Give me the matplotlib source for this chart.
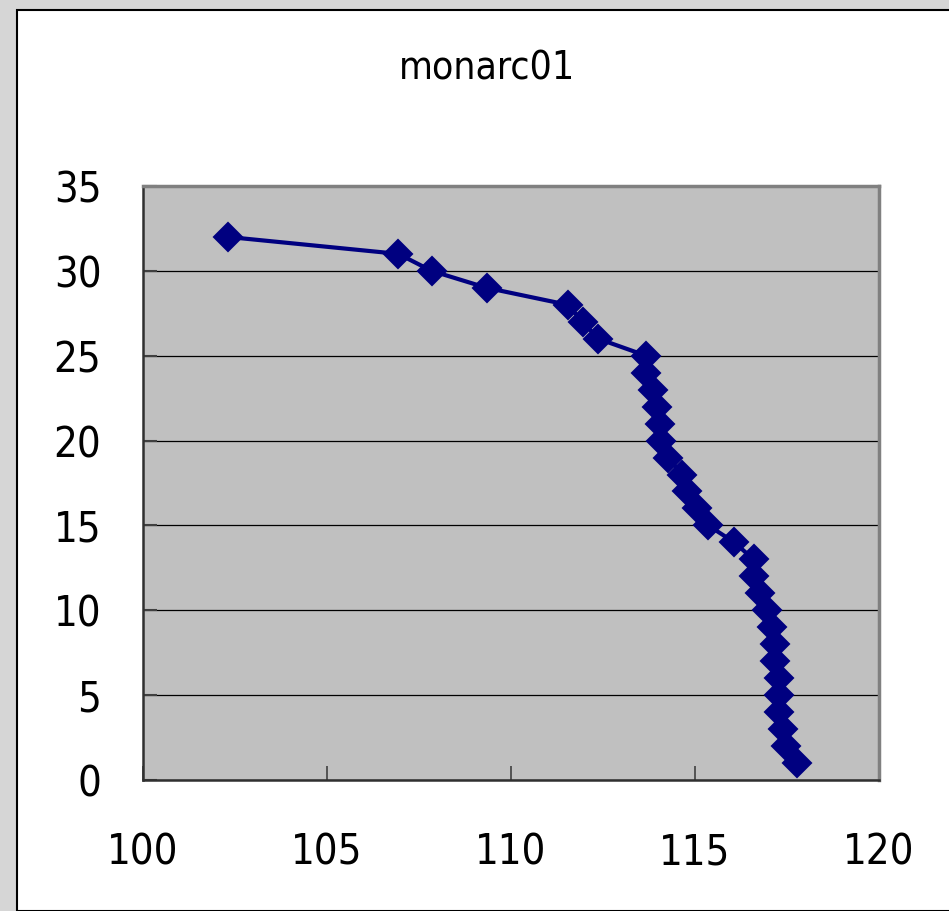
import matplotlib
matplotlib.use("Agg")
import matplotlib.pyplot as plt
from matplotlib.patches import Rectangle
from matplotlib import font_manager

# data (x = value, y = level)
levels = [32, 31, 30, 29, 28, 27, 26, 25, 24, 23, 22, 21, 20, 19, 18, 17,
          16, 15, 14, 13, 12, 11, 10, 9, 8, 7, 6, 5, 4, 3, 2, 1]
values = [102.3, 106.94, 107.84, 109.34, 111.54, 111.95, 112.37, 113.67,
          113.67, 113.87, 113.98, 114.05, 114.07, 114.26, 114.66, 114.77,
          115.06, 115.36, 116.07, 116.59, 116.59, 116.77, 116.97, 117.08,
          117.17, 117.17, 117.28, 117.28, 117.28, 117.38, 117.47, 117.76]
x_ticks = [100, 105, 110, 115, 120]
y_ticks = [0, 5, 10, 15, 20, 25, 30, 35]
title = "monarc01"

names = {f.name for f in font_manager.fontManager.ttflist}
font = "Liberation Sans Narrow" if "Liberation Sans Narrow" in names else "DejaVu Sans"
plt.rcParams["font.family"] = [font, "DejaVu Sans"]
plt.rcParams["font.stretch"] = "condensed"

fig = plt.figure(figsize=(9.49, 9.11), dpi=100, facecolor="#d6d6d6")

# white chart panel with black frame, behind the axes
fig.patches.append(Rectangle((17 / 949, 0), 1, 1 - 10 / 911, transform=fig.transFigure,
                             facecolor="white", edgecolor="black", linewidth=1.5,
                             zorder=-10))

ax = fig.add_axes([143 / 949, 1 - 780 / 911, (879 - 143) / 949, (780 - 186) / 911])
ax.set_facecolor("#c0c0c0")

ax.plot(values, levels, color="#000080", linewidth=3, marker="D",
        markersize=14.5, markerfacecolor="#000080", markeredgecolor="#000080",
        markeredgewidth=1.5, solid_joinstyle="round", zorder=3)

ax.set_xlim(100, 120)
ax.set_ylim(0, 35)
ax.set_xticks(x_ticks)
ax.set_yticks(y_ticks)
ax.yaxis.grid(True, color="black", linewidth=0.9)
ax.set_axisbelow(True)

ax.tick_params(axis="x", direction="in", length=10, width=1.2, color="#404040",
               labelsize=30, pad=37)
ax.tick_params(axis="y", direction="in", length=10, width=1.5, color="#404040",
               labelsize=30, pad=30)
for lbl in ax.get_xticklabels() + ax.get_yticklabels():
    lbl.set_fontweight("light")
    lbl.set_fontstretch("condensed")

for side in ["top", "right"]:
    ax.spines[side].set_color("#808080")
    ax.spines[side].set_linewidth(2.5)
for side in ["left", "bottom"]:
    ax.spines[side].set_color("#303030")
    ax.spines[side].set_linewidth(1.8)

fig.text(487 / 949, 1 - 68 / 911, title, ha="center", va="center",
         fontsize=28, fontweight="light", fontstretch="condensed")

fig.savefig("out.png", dpi=100, facecolor=fig.get_facecolor())
